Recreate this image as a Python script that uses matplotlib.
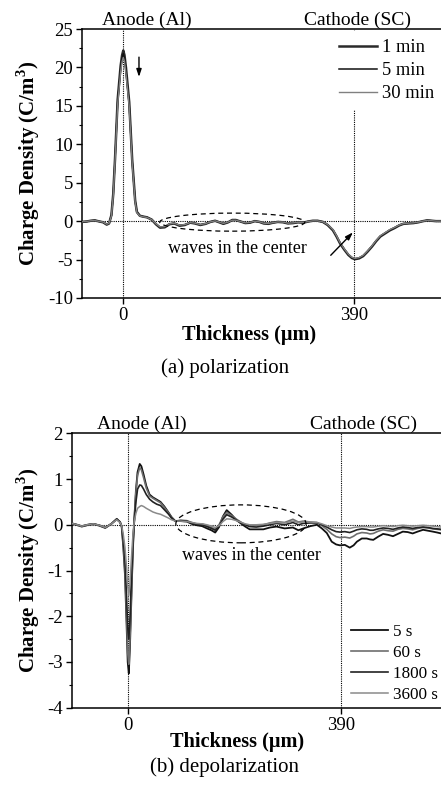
import numpy as np
import matplotlib
matplotlib.use("Agg")
import matplotlib.pyplot as plt
import matplotlib.transforms as mtransforms
from matplotlib.patches import Ellipse

plt.rcParams["font.family"] = ["Liberation Serif", "DejaVu Serif"]
plt.rcParams["axes.unicode_minus"] = False
plt.rcParams["mathtext.fontset"] = "custom"
plt.rcParams["mathtext.rm"] = "Liberation Serif"
plt.rcParams["mathtext.bf"] = "Liberation Serif:bold"

# ── (a) polarization data (thickness in µm, charge density in C/m^3) ─────────
x_pol = [-70, -62, -55, -48, -40, -34, -28, -24, -20, -17, -14, -9.5, -4.5, -2, 0,
         2, 4.5, 10, 15, 20, 23, 28, 33, 40, 48, 55, 62, 70, 78, 86, 95, 104, 113,
         121, 130, 139, 147, 155, 162, 169, 177, 184, 190, 198, 206, 214, 222, 230,
         237, 245, 253, 261, 270, 278, 287, 295, 304, 312, 320, 328, 337, 345, 354,
         360, 366, 373, 380, 386, 391, 398, 405, 412, 420, 427, 434, 442, 450, 458,
         466, 473, 481, 490, 498, 506, 513, 521, 528, 536]
pol_1min = [-0.1, -0.05, 0.05, 0.1, -0.05, -0.15, -0.45, -0.3, 0.8, 3.5, 8.0, 15.8, 20.2, 21.6, 22.2,
            21.6, 20.0, 15.5, 8.0, 2.7, 1.2, 0.7, 0.6, 0.5, 0.2, -0.4, -0.85, -0.8, -0.4, -0.3, -0.6, -0.5, -0.2,
            -0.3, -0.5, -0.35, -0.1, 0.05, -0.15, -0.35, -0.15, 0.15, 0.15, -0.05, -0.25, -0.2, 0.0, -0.1,
            -0.3, -0.35, -0.2, -0.1, -0.15, -0.3, -0.25, -0.15, -0.2, -0.05, 0.05, 0.05, -0.1, -0.5, -1.2,
            -2.0, -2.9, -3.7, -4.4, -4.8, -4.95, -4.85, -4.55, -4.0, -3.3, -2.6, -2.0, -1.6, -1.2, -0.9,
            -0.55, -0.35, -0.3, -0.25, -0.15, 0.0, 0.1, 0.05, 0.0, 0.0]
pol_5min = [-0.1, -0.05, 0.05, 0.1, -0.05, -0.15, -0.42, -0.3, 0.75, 3.4, 7.9, 15.5, 19.8, 21.2, 21.8,
            21.2, 19.6, 15.2, 7.8, 2.6, 1.15, 0.7, 0.6, 0.5, 0.2, -0.35, -0.8, -0.75, -0.38, -0.28, -0.55, -0.47, -0.2,
            -0.28, -0.47, -0.33, -0.1, 0.05, -0.13, -0.32, -0.13, 0.13, 0.13, -0.05, -0.23, -0.18, 0.0, -0.1,
            -0.28, -0.33, -0.2, -0.1, -0.14, -0.28, -0.23, -0.15, -0.18, -0.05, 0.05, 0.05, -0.1, -0.48, -1.15,
            -1.95, -2.85, -3.65, -4.35, -4.75, -4.9, -4.8, -4.5, -3.95, -3.25, -2.55, -1.95, -1.55, -1.15, -0.85,
            -0.52, -0.33, -0.28, -0.23, -0.14, 0.0, 0.1, 0.05, 0.0, 0.0]
pol_30min = [-0.08, -0.04, 0.05, 0.08, -0.04, -0.13, -0.4, -0.28, 0.7, 3.3, 7.7, 15.2, 19.4, 20.8, 21.3,
             20.8, 19.2, 14.9, 7.6, 2.5, 1.1, 0.68, 0.58, 0.48, 0.2, -0.33, -0.75, -0.72, -0.36, -0.27, -0.52, -0.45, -0.19,
             -0.27, -0.45, -0.32, -0.1, 0.04, -0.12, -0.3, -0.12, 0.12, 0.12, -0.05, -0.22, -0.17, 0.0, -0.09,
             -0.27, -0.31, -0.19, -0.1, -0.13, -0.27, -0.22, -0.14, -0.17, -0.05, 0.04, 0.04, -0.09, -0.45, -1.1,
             -1.9, -2.8, -3.6, -4.3, -4.7, -4.85, -4.75, -4.45, -3.9, -3.2, -2.5, -1.9, -1.5, -1.1, -0.82,
             -0.5, -0.32, -0.27, -0.22, -0.13, 0.0, 0.09, 0.05, 0.0, 0.0]
pol_labels = ["1 min", "5 min", "30 min"]

# ── (b) depolarization data ─────────────────────────────────────────────────
x_dep = [-102, -92, -84, -74, -63, -52, -41, -30, -20, -14, -11, -8, -5, -2, 0, 2, 4, 6, 8, 10,
         12, 15, 18, 22, 25, 29, 34, 40, 46, 53, 60, 67, 74, 80, 87, 97, 108, 117, 126, 136,
         145, 153, 160, 167, 174, 181, 190, 199, 208, 215, 223, 235, 248, 260, 272, 287, 302, 312, 321, 334,
         346, 355, 364, 373, 381, 388, 397, 406, 413, 419, 428, 437, 443, 449, 458, 467, 476, 485, 494, 503,
         512, 521, 530, 540, 549, 558, 566, 573]
dep_5s = [0.03, -0.01, -0.04, -0.01, 0.02, -0.02, -0.07, 0.02, 0.13, 0.06, -0.05, -0.5, -1.1, -2.2, -3.0, -3.25, -2.7, -1.9, -1.1, -0.4,
          0.1, 0.75, 1.15, 1.33, 1.28, 1.1, 0.85, 0.66, 0.6, 0.55, 0.5, 0.4, 0.28, 0.17, 0.08, 0.08, 0.07, 0.02, -0.01, -0.03,
          -0.08, -0.12, -0.17, -0.05, 0.18, 0.32, 0.22, 0.1, 0.02, -0.04, -0.1, -0.1, -0.1, -0.06, -0.04, -0.08, -0.06, -0.12, -0.08, -0.03,
          0.0, -0.08, -0.18, -0.37, -0.43, -0.45, -0.44, -0.5, -0.45, -0.37, -0.3, -0.3, -0.32, -0.33, -0.26, -0.2, -0.22, -0.25, -0.2, -0.15,
          -0.16, -0.19, -0.15, -0.11, -0.13, -0.15, -0.17, -0.19]
dep_60s = [0.03, 0.0, -0.03, 0.0, 0.02, -0.01, -0.06, 0.02, 0.12, 0.06, -0.04, -0.45, -1.0, -2.0, -2.8, -3.05, -2.55, -1.8, -1.05, -0.38,
           0.1, 0.7, 1.08, 1.25, 1.2, 1.03, 0.8, 0.63, 0.58, 0.53, 0.48, 0.38, 0.27, 0.16, 0.08, 0.1, 0.09, 0.05, 0.02, 0.02,
           -0.02, -0.06, -0.1, 0.0, 0.17, 0.27, 0.2, 0.12, 0.05, 0.0, -0.03, -0.02, 0.0, 0.04, 0.07, 0.05, 0.12, 0.06, 0.08, 0.06,
           0.05, -0.02, -0.1, -0.2, -0.26, -0.28, -0.27, -0.29, -0.25, -0.2, -0.17, -0.18, -0.2, -0.19, -0.14, -0.11, -0.13, -0.14, -0.1, -0.08,
           -0.09, -0.11, -0.08, -0.06, -0.07, -0.09, -0.1, -0.11]
dep_1800s = [0.03, 0.0, -0.03, 0.0, 0.02, -0.01, -0.06, 0.02, 0.12, 0.06, -0.03, -0.35, -0.8, -1.6, -2.25, -2.5, -2.1, -1.45, -0.85, -0.3,
             0.08, 0.5, 0.78, 0.87, 0.86, 0.78, 0.66, 0.56, 0.5, 0.45, 0.42, 0.33, 0.24, 0.15, 0.08, 0.09, 0.08, 0.04, 0.01, 0.0,
             -0.04, -0.08, -0.12, -0.03, 0.12, 0.22, 0.17, 0.1, 0.04, 0.0, -0.04, -0.05, -0.03, 0.0, 0.03, 0.0, 0.05, 0.0, 0.03, 0.04,
             0.04, 0.0, -0.05, -0.11, -0.15, -0.16, -0.15, -0.17, -0.14, -0.11, -0.09, -0.1, -0.12, -0.12, -0.09, -0.07, -0.08, -0.1, -0.07, -0.05,
             -0.06, -0.08, -0.06, -0.05, -0.06, -0.08, -0.09, -0.1]
dep_3600s = [0.03, 0.0, -0.03, 0.0, 0.02, -0.01, -0.06, 0.02, 0.11, 0.05, -0.02, -0.22, -0.5, -0.95, -1.35, -1.55, -1.3, -0.9, -0.5, -0.15,
             0.08, 0.25, 0.36, 0.40, 0.42, 0.40, 0.36, 0.32, 0.28, 0.25, 0.23, 0.19, 0.15, 0.11, 0.08, 0.08, 0.07, 0.05, 0.03, 0.02,
             0.0, -0.03, -0.06, -0.02, 0.07, 0.13, 0.12, 0.09, 0.05, 0.02, 0.0, 0.0, 0.01, 0.03, 0.05, 0.04, 0.08, 0.05, 0.06, 0.06,
             0.05, 0.02, -0.02, -0.05, -0.07, -0.07, -0.07, -0.08, -0.06, -0.05, -0.04, -0.04, -0.05, -0.05, -0.03, -0.02, -0.03, -0.04, -0.02, -0.01,
             -0.02, -0.03, -0.02, -0.01, -0.02, -0.03, -0.04, -0.05]
dep_labels = ["5 s", "60 s", "1800 s", "3600 s"]

for s in (pol_1min, pol_5min, pol_30min):
    assert len(s) == len(x_pol)
for s in (dep_5s, dep_60s, dep_1800s, dep_3600s):
    assert len(s) == len(x_dep)

ELECTRODES = [0, 390]

W, H = 441, 785
fig = plt.figure(figsize=(W / 100, H / 100), dpi=100)


def px_axes(left, top, right, bottom):
    return fig.add_axes([left / W, 1 - bottom / H, (right - left) / W, (bottom - top) / H])


def style_axes(ax, yticks, yminor):
    ax.spines["right"].set_visible(False)
    for sp in ("left", "top", "bottom"):
        ax.spines[sp].set_linewidth(1.1)
    ax.set_xticks(ELECTRODES)
    ax.set_xticklabels([str(v) for v in ELECTRODES])
    ax.set_yticks(yticks)
    ax.set_yticks(yminor, minor=True)
    ax.tick_params(axis="both", which="major", direction="out", length=4, width=1,
                   labelsize=13.5, pad=2.5)
    ax.tick_params(axis="y", which="minor", direction="out", length=2.5, width=0.8)
    ax.tick_params(axis="x", which="minor", bottom=False)
    for xv in ELECTRODES:
        ax.axvline(xv, color="black", lw=0.8, ls=(0, (1, 1)), zorder=1)
    ax.axhline(0, color="black", lw=0.8, ls=(0, (1, 1)), zorder=1)


def electrode_labels(ax, xa, xc, y_px):
    trans = mtransforms.blended_transform_factory(ax.transData, fig.transFigure)
    ax.text(xa, 1 - y_px / H, "Anode (Al)", transform=trans, ha="center", va="center",
            fontsize=14, clip_on=False)
    ax.text(xc, 1 - y_px / H, "Cathode (SC)", transform=trans, ha="center", va="center",
            fontsize=14, clip_on=False)


# ── panel (a) ────────────────────────────────────────────────────────────────
ax1 = px_axes(82, 29, 441, 298)
ax1.set_xlim(-69.7, 536.4)
ax1.set_ylim(-10, 25)
style_axes(ax1, np.arange(-10, 26, 5), np.arange(-10, 25.1, 2.5))

pol_series = [pol_1min, pol_5min, pol_30min]
pol_colors = ["#2a2a2a", "#111111", "#808080"]
pol_widths = [1.8, 1.1, 1.0]
for ys, lab, c, lw in zip(pol_series, pol_labels, pol_colors, pol_widths):
    ax1.plot(x_pol, ys, color=c, lw=lw, label=lab, zorder=3)

ax1.add_patch(Ellipse((184, -0.13), 245, 2.35, fill=False, ls=(0, (4, 3)), lw=0.9,
                      color="black", zorder=4))
ax1.text(192, -3.5, "waves in the center", ha="center", va="center", fontsize=13)
ax1.annotate("", xy=(26.5, 18.4), xytext=(26.5, 21.7),
             arrowprops=dict(arrowstyle="-|>,head_length=0.45,head_width=0.15", lw=1, color="black"))
ax1.annotate("", xy=(391, -1.2), xytext=(347, -4.7),
             arrowprops=dict(arrowstyle="-|>,head_length=0.45,head_width=0.15", lw=1, color="black"))

leg1 = ax1.legend(loc="upper left", bbox_to_anchor=(331 / W, 1 - 31 / H),
                  bbox_transform=fig.transFigure, frameon=True, fancybox=False,
                  edgecolor="none", facecolor="white", framealpha=1, fontsize=13.3,
                  handlelength=2.05, handletextpad=0.27, labelspacing=0.32, borderpad=0.45,
                  borderaxespad=0)
leg1.set_zorder(5)
electrode_labels(ax1, 40, 395, 20)

fig.text(28 / W, 1 - 163.5 / H, "Charge Density (C/m$^\\mathbf{3}$)", rotation=90,
         ha="center", va="center", fontsize=15, fontweight="bold")
fig.text(249 / W, 1 - 335 / H, "Thickness (µm)", ha="center", va="center",
         fontsize=14.6, fontweight="bold")
fig.text(225 / W, 1 - 368 / H, "(a) polarization", ha="center", va="center", fontsize=15)

# ── panel (b) ────────────────────────────────────────────────────────────────
ax2 = px_axes(71.7, 433.3, 441, 707.7)
ax2.set_xlim(-102.4, 572.8)
ax2.set_ylim(-4, 2)
style_axes(ax2, np.arange(-4, 2.1, 1), np.arange(-4, 2.01, 0.5))

dep_series = [dep_5s, dep_60s, dep_1800s, dep_3600s]
dep_colors = ["#111111", "#6e6e6e", "#222222", "#8a8a8a"]
dep_widths = [1.3, 1.2, 1.2, 1.1]
for ys, lab, c, lw in zip(dep_series, dep_labels, dep_colors, dep_widths):
    ax2.plot(x_dep, ys, color=c, lw=lw, label=lab, zorder=3)

ax2.add_patch(Ellipse((207, 0.02), 238, 0.83, fill=False, ls=(0, (4, 3)), lw=0.9,
                      color="black", zorder=4))
ax2.text(227, -0.68, "waves in the center", ha="center", va="center", fontsize=13)

ax2.legend(loc="upper left", bbox_to_anchor=(348 / W, 1 - 621 / H),
           bbox_transform=fig.transFigure, frameon=False, fontsize=12.3,
           handlelength=2.2, handletextpad=0.27, labelspacing=0.3, borderpad=0.15,
           borderaxespad=0)
electrode_labels(ax2, 26, 432, 424)

fig.text(28 / W, 1 - 570 / H, "Charge Density (C/m$^\\mathbf{3}$)", rotation=90,
         ha="center", va="center", fontsize=15, fontweight="bold")
fig.text(237.5 / W, 1 - 742 / H, "Thickness (µm)", ha="center", va="center",
         fontsize=14.6, fontweight="bold")
fig.text(224 / W, 1 - 767 / H, "(b) depolarization", ha="center", va="center", fontsize=15)

fig.savefig("out.png", dpi=100)
